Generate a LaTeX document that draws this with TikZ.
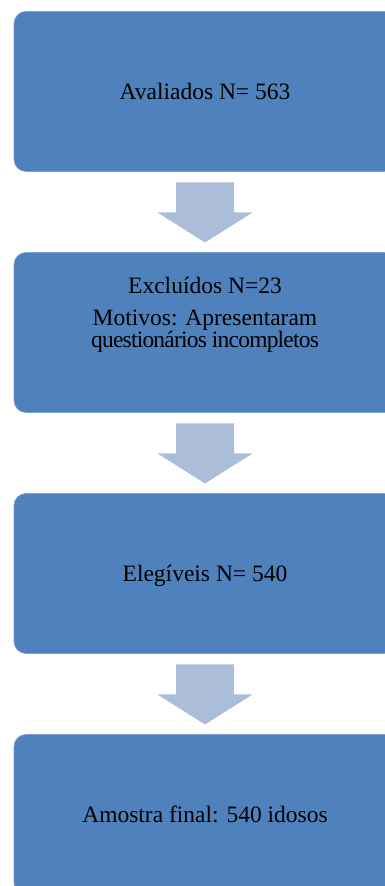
\documentclass[tikz,border=0pt]{standalone}
\usepackage{fontspec}
\setmainfont{Liberation Serif}
\usetikzlibrary{positioning,calc}
\definecolor{boxblue}{RGB}{79,129,189}
\definecolor{arrowblue}{RGB}{172,189,218}
\definecolor{edgeblue}{RGB}{125,160,208}

\begin{document}
\begin{tikzpicture}[x=1pt,y=1pt,
  stagebox/.style={fill=boxblue,draw=edgeblue,line width=0.6pt,rounded corners=12pt,
    minimum width=382pt,minimum height=160pt,inner sep=0pt,outer sep=0pt,
    font=\fontsize{23.5}{21.7}\selectfont,text height=16pt,text depth=0pt},
  stagetext/.style={inner sep=0pt,align=center,font=\fontsize{23.5}{21.7}\selectfont},
  blockarrow/.style={fill=arrowblue}]
\useasboundingbox (0,0) rectangle (385,886);
\clip (0,0) rectangle (385,886);
\node[stagebox] (b1) at (205,794.5) {Avaliados N= 563};
\node[stagebox,below=81pt of b1] (b2) {};
\node[stagetext,below=24.5pt of b2.north] (t2) {Excluídos N=23\\[10.3pt]Motivos: Apresentaram\\{\addfontfeature{LetterSpace=-3.4}questionários incompletos}};
\node[stagebox,below=81pt of b2] (b3) {Elegíveis N= 540};
\node[stagebox,below=81pt of b3] (b4) {Amostra final: 540 idosos};
% setas entre as etapas
\foreach \a/\b in {b1/b2,b2/b3,b3/b4}
  \fill[blockarrow] ($(\a.south)+(-29,-11)$) -- ++(58,0) -- ++(0,-30) -- ++(18.5,0)
    -- ($(\b.north)+(0,10)$) -- ($(\a.south)+(-47.5,-41)$) -- ++(18.5,0) -- cycle;
\end{tikzpicture}
\end{document}
